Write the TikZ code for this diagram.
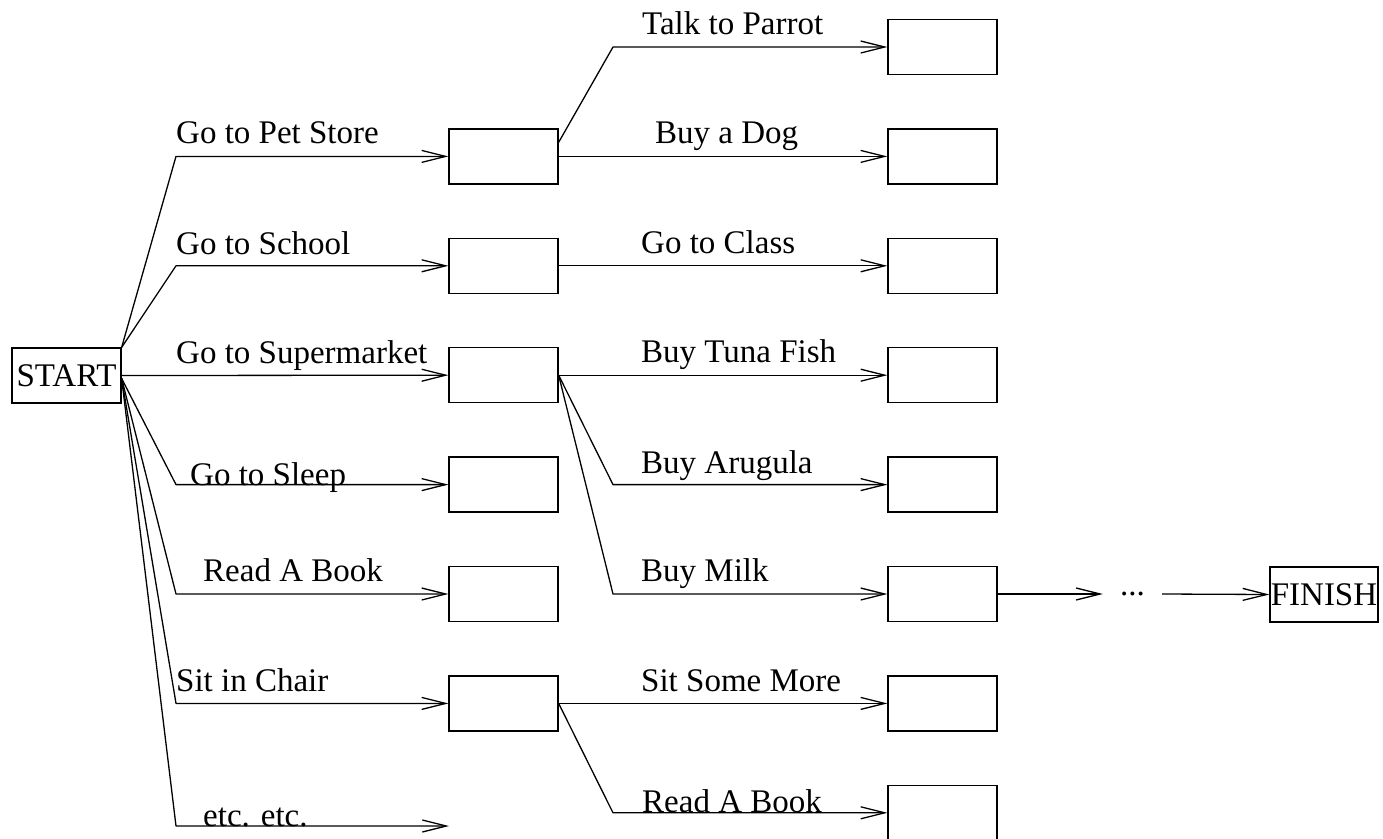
\documentclass[tikz,border=0pt]{standalone}
\usepackage{fontspec}
\setmainfont{Liberation Serif}
\usetikzlibrary{arrows.meta,calc}
\begin{document}
\begin{tikzpicture}[x=1pt,y=-1pt,
  every node/.style={inner sep=0pt},
  txt/.style={font=\fontsize{33}{39}\selectfont},
  state/.style={draw, line width=1.3pt, minimum width=109pt, minimum height=55pt, txt},
  lbl/.style={anchor=base west, txt},
  flow/.style={line width=1.3pt, line join=round, -{Straight Barb[length=24pt,width=12pt,line width=1.3pt]}}
  ]
\useasboundingbox (0,0) rectangle (1383,838);

% start and finish
\node[state] (start) at (66.5,375.5) {START};
\node[state, minimum width=108pt] (finish) at (1324,594.5) {FINISH};

% first-level states
\node[state] (m1) at (503.5,156.4) {};
\node[state] (m2) at (503.5,265.8) {};
\node[state] (m3) at (503.5,375.2) {};
\node[state] (m4) at (503.5,484.6) {};
\node[state] (m5) at (503.5,594) {};
\node[state] (m6) at (503.5,703.4) {};
\coordinate (m7) at (449,826);

% second-level states
\node[state] (r0) at (942.5,47) {};
\node[state] (r1) at (942.5,156.4) {};
\node[state] (r2) at (942.5,265.8) {};
\node[state] (r3) at (942.5,375.2) {};
\node[state] (r4) at (942.5,484.6) {};
\node[state] (r5) at (942.5,594) {};
\node[state] (r6) at (942.5,703.4) {};
\node[state] (r7) at (942.5,812.8) {};

% ellipsis between the last state and finish
\node[txt, minimum width=59pt] (dots) at (1132.5,594) {...};

% action labels, first level
\node[lbl] (l1) at (176,143) {Go to Pet Store};
\node[lbl] (l2) at (176,254) {Go to School};
\node[lbl] (l3) at (176,363) {Go to Supermarket};
\node[lbl] (l4) at (190,485) {Go to Sleep};
\node[lbl] (l5) at (203,581) {Read A Book};
\node[lbl] (l6) at (176,691) {Sit in Chair};
\node[lbl] (l7) at (203,826) {etc. etc.};

% action labels, second level
\node[lbl] (k0) at (642,34) {Talk to Parrot};
\node[lbl] (k1) at (655,143) {Buy a Dog};
\node[lbl] (k2) at (641,253) {Go to Class};
\node[lbl] (k3) at (641,362) {Buy Tuna Fish};
\node[lbl] (k4) at (641,473) {Buy Arugula};
\node[lbl] (k5) at (641,581) {Buy Milk};
\node[lbl] (k6) at (641,691) {Sit Some More};
\node[lbl] (k7) at (642,812) {Read A Book};

% branches out of start
\coordinate (sdown) at ($(start.east)+(0,3)$);
\draw[flow] (start.north east) -- (176,0 |- m1.west) -- (m1.west);
\draw[flow] (start.north east) -- (176,0 |- m2.west) -- (m2.west);
\draw[flow] (start.east) -- (m3.west);
\draw[flow] (sdown) -- (176,0 |- m4.west) -- (m4.west);
\draw[flow] (sdown) -- (176,0 |- m5.west) -- (m5.west);
\draw[flow] (sdown) -- (176,0 |- m6.west) -- (m6.west);
\draw[flow] (sdown) -- (176,0 |- m7) -- (m7);

% second-level branches
\draw[flow] ($(m1.north east)!0.25!(m1.south east)$) -- (613,0 |- r0.west) -- (r0.west);
\draw[flow] (m1.east) -- (r1.west);
\draw[flow] (m2.east) -- (r2.west);
\draw[flow] (m3.east) -- (r3.west);
\draw[flow] (m3.east) -- (613,0 |- r4.west) -- (r4.west);
\draw[flow] (m3.east) -- (613,0 |- r5.west) -- (r5.west);
\draw[flow] (m6.east) -- (r6.west);
\draw[flow] (m6.east) -- (613,0 |- r7.west) -- (r7.west);

% on to finish
\draw[flow] (r5.east) -- (dots.west);
\draw[flow] (dots.east) -- (finish.west);
\end{tikzpicture}
\end{document}
